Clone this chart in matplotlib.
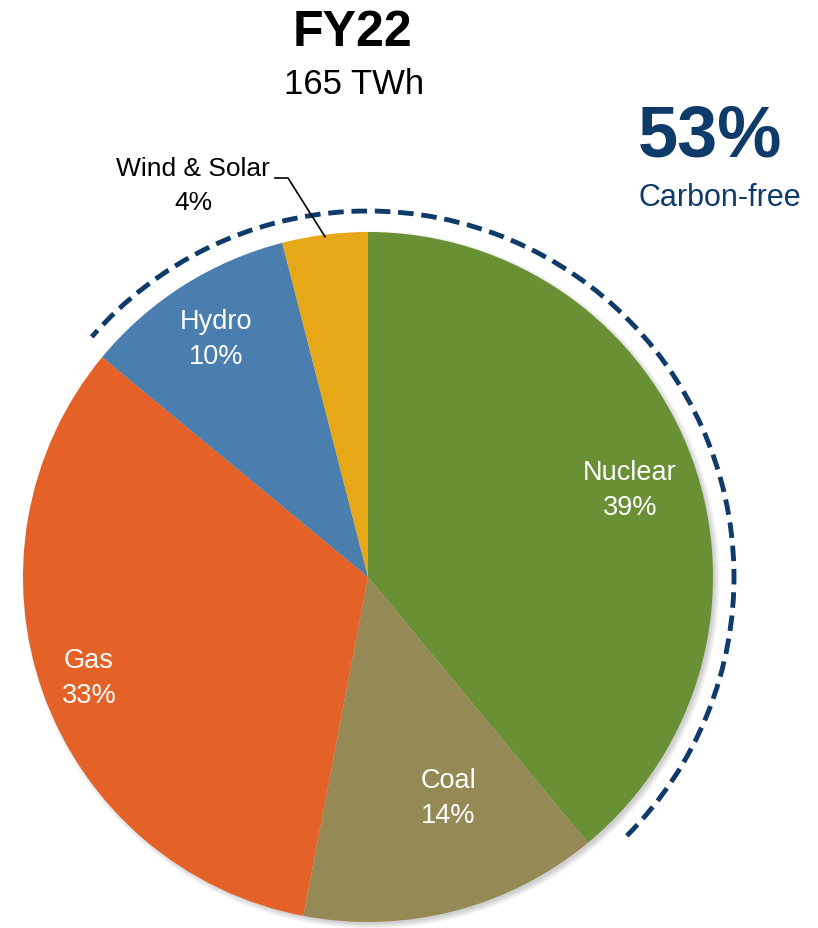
import numpy as np
import matplotlib.pyplot as plt
from matplotlib.patches import Circle, Arc

plt.rcParams['font.family'] = ['Liberation Sans', 'DejaVu Sans']

# generation mix, FY22
sources = ["Nuclear", "Coal", "Gas", "Hydro", "Wind & Solar"]
shares = [39, 14, 33, 10, 4]
colors = ["#6A9035", "#958A55", "#E46127", "#4A7EAE", "#E6A817"]
total_twh = 165
carbon_free = ["Nuclear", "Hydro", "Wind & Solar"]

NAVY = "#0E3B69"
W, H = 818, 929
cx, cy, R = 368, H - 578, 345

fig = plt.figure(figsize=(W / 100, H / 100), dpi=100)
ax = fig.add_axes([0, 0, 1, 1])

# soft drop shadow under the pie
for k in range(8):
    ax.add_patch(Circle((cx + 3, cy - 3), R + 4 - k * 0.8, color='black',
                        alpha=0.025, lw=0, zorder=0))

wedges, _ = ax.pie(shares, colors=colors, startangle=90, counterclock=False,
                   center=(cx, cy), radius=R, frame=True,
                   wedgeprops=dict(linewidth=0))
ax.set_xlim(0, W)
ax.set_ylim(0, H)
ax.set_aspect('equal')
ax.axis('off')

# in-slice labels: (radius fraction, angle nudge in degrees)
label_pos = {"Nuclear": (0.80, -1.3), "Coal": (0.68, 5.6),
             "Gas": (0.86, 0.0), "Hydro": (0.82, 0.0)}
for w, name, s in zip(wedges, sources, shares):
    if name not in label_pos:
        continue
    frac, nudge = label_pos[name]
    mid = np.deg2rad((w.theta1 + w.theta2) / 2 + nudge)
    r = R * frac
    ax.text(cx + r * np.cos(mid), cy + r * np.sin(mid), f"{name}\n{s}%",
            ha='center', va='center', color='white', fontsize=19.5,
            linespacing=1.45)

# small slice gets an outside label with leader line
ws = wedges[sources.index("Wind & Solar")]
mid = np.deg2rad((ws.theta1 + ws.theta2) / 2)
tip = (cx + (R - 2) * np.cos(mid), cy + (R - 2) * np.sin(mid))
ax.plot([275, 288, tip[0]], [H - 179, H - 179, tip[1]], color='black', lw=1.2)
ax.text(193, H - 186, f"Wind & Solar\n{shares[sources.index('Wind & Solar')]}%",
        ha='center', va='center', fontsize=19, linespacing=1.55)

# dashed arc around the carbon-free slices
cf_idx = [sources.index(n) for n in carbon_free]
ax.add_patch(Arc((cx, cy), 2 * 366, 2 * 366, theta1=-45, theta2=139,
                 color=NAVY, lw=3.5, linestyle=(0, (3.2, 1.6))))

cf_share = sum(shares[i] for i in cf_idx)
ax.text(352, H - 33, "FY22", ha='center', va='center', fontsize=36,
        fontweight='bold')
ax.text(354, H - 84, f"{total_twh} TWh", ha='center', va='center', fontsize=25)
ax.text(710, H - 137, f"{cf_share}%", ha='center', va='center', fontsize=52,
        fontweight='bold', color=NAVY)
ax.text(720, H - 198, "Carbon-free", ha='center', va='center', fontsize=22,
        color=NAVY)

fig.savefig("out.png", dpi=100)
